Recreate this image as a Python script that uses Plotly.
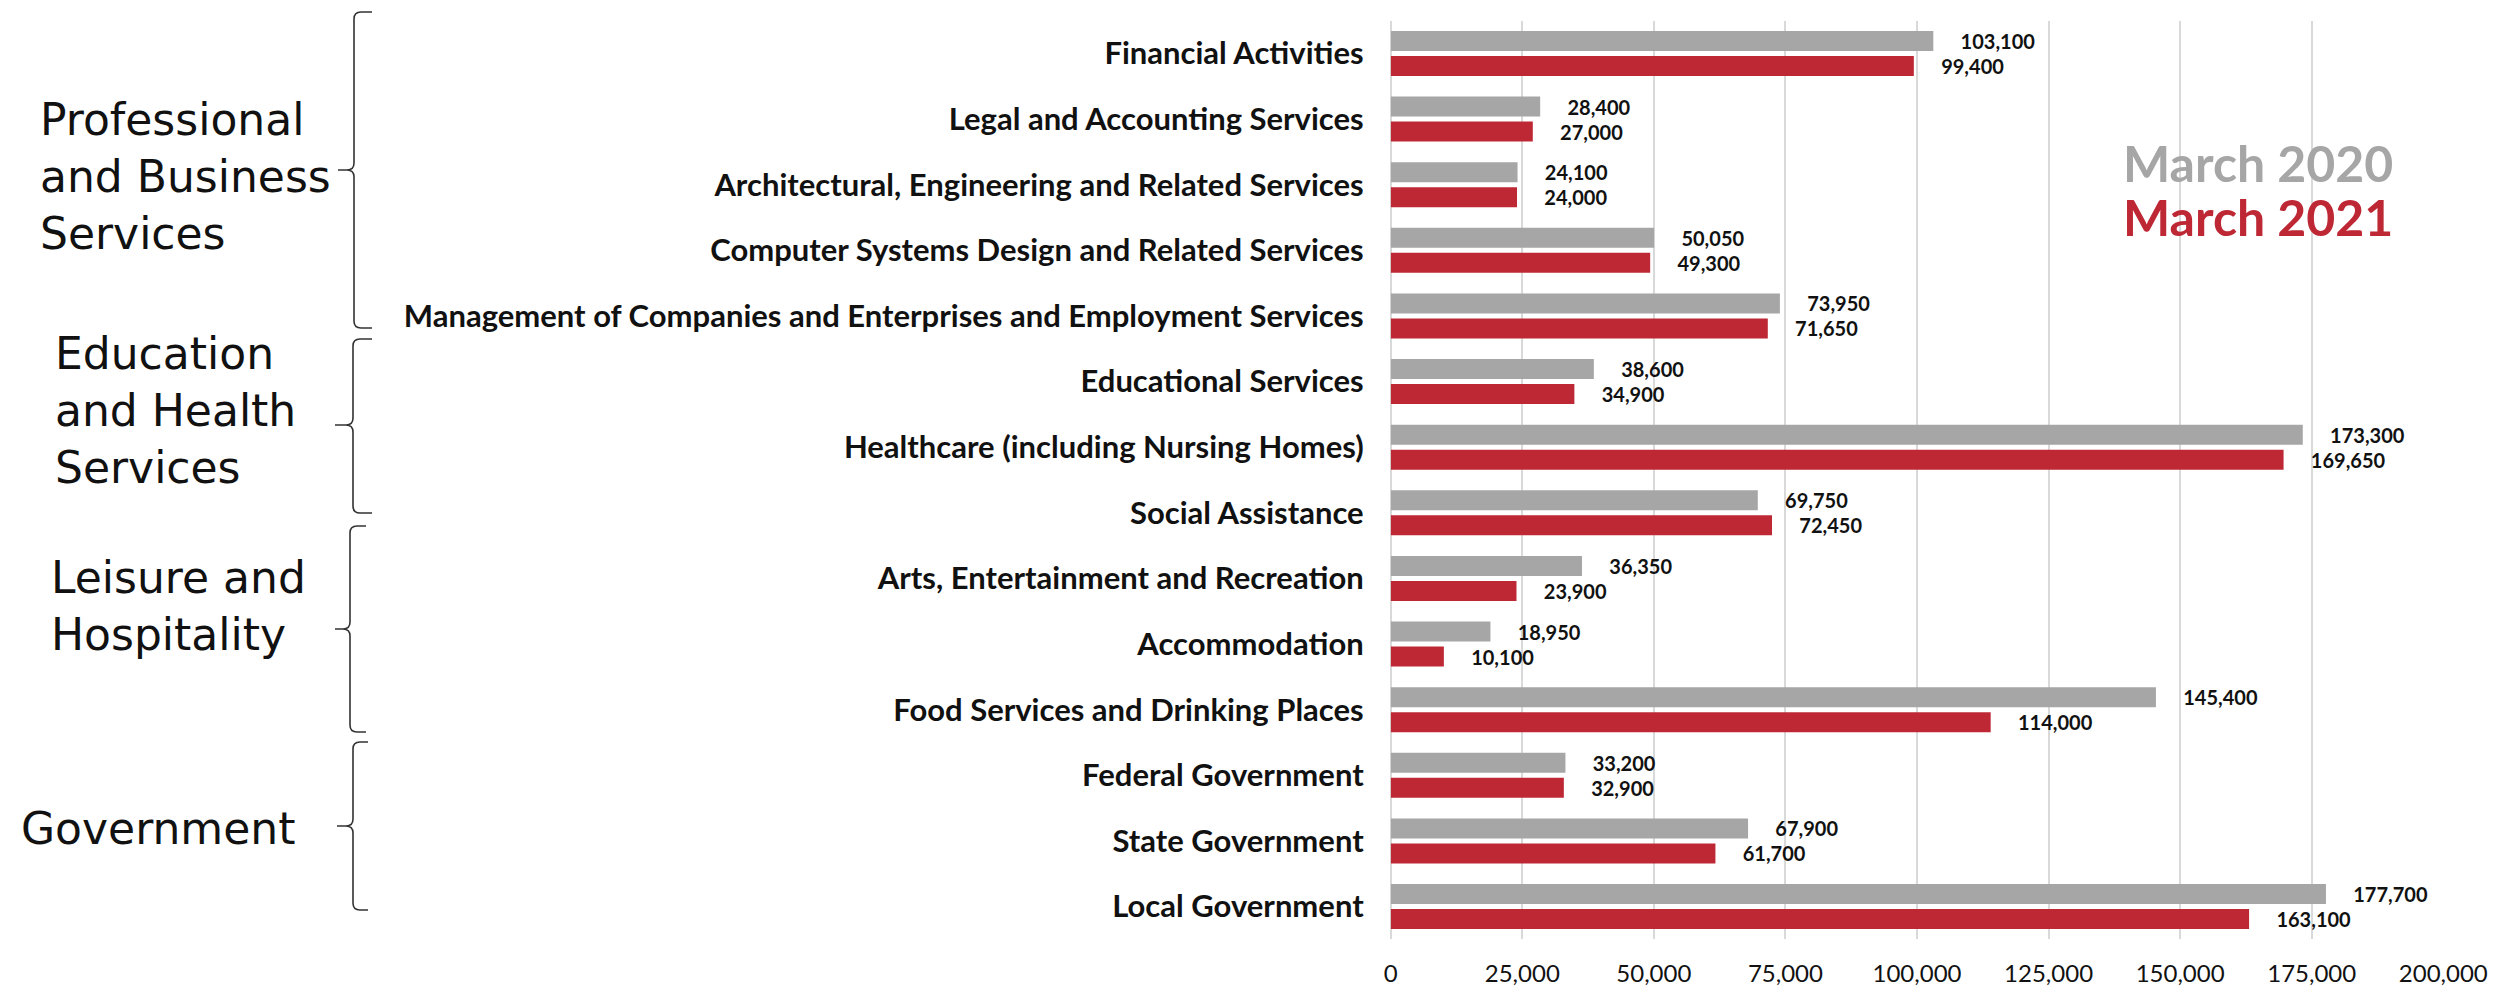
import plotly.graph_objects as go

categories = [
    "Financial Activities",
    "Legal and Accounting Services",
    "Architectural, Engineering and Related Services",
    "Computer Systems Design and Related Services",
    "Management of Companies and Enterprises and Employment Services",
    "Educational Services",
    "Healthcare (including Nursing Homes)",
    "Social Assistance",
    "Arts, Entertainment and Recreation",
    "Accommodation",
    "Food Services and Drinking Places",
    "Federal Government",
    "State Government",
    "Local Government",
]
march_2020 = [103100, 28400, 24100, 50050, 73950, 38600, 173300, 69750, 36350, 18950, 145400, 33200, 67900, 177700]
march_2021 = [99400, 27000, 24000, 49300, 71650, 34900, 169650, 72450, 23900, 10100, 114000, 32900, 61700, 163100]
series_names = ["March 2020", "March 2021"]
x_ticks = [0, 25000, 50000, 75000, 100000, 125000, 150000, 175000, 200000]
x_tick_labels = ["0", "25,000", "50,000", "75,000", "100,000", "125,000", "150,000", "175,000", "200,000"]
groups = [
    "Professional<br>and Business<br>Services",
    "Education<br>and Health<br>Services",
    "Leisure and<br>Hospitality",
    "Government",
]

# page body has an 8px margin: figure is laid out in screen pixels minus this offset
OFF = 8
W, H = 2493, 980
GRAY = "#A6A6A6"
RED = "#BE2835"


def px(x):
    return (x - OFF) / W


def py(y):
    return 1 - (y - OFF) / H


fig = go.Figure()
pad = "\u00a0" * 5
for name, vals, col in [(series_names[0], march_2020, GRAY), (series_names[1], march_2021, RED)]:
    fig.add_trace(go.Bar(
        y=categories, x=vals, name=name, orientation="h",
        marker=dict(color=col, line=dict(width=0)),
        texttemplate=pad + "%{x:,}", textposition="outside",
        constraintext="none", cliponaxis=False,
        textfont=dict(family="Lato", size=20, color="#111111", weight="bold"),
    ))

fig.update_layout(
    width=W, height=H,
    margin=dict(l=0, r=0, t=0, b=0, autoexpand=False),
    paper_bgcolor="white", plot_bgcolor="white",
    barmode="group", bargap=0.238, bargroupgap=0.2,
    showlegend=False,
    xaxis=dict(
        domain=[px(1390.7), px(2443.3)], range=[0, 200000], automargin=False,
        tickvals=x_ticks, ticktext=x_tick_labels,
        showgrid=True, gridcolor="#D9D9D9", gridwidth=2,
        zeroline=True, zerolinecolor="#D9D9D9", zerolinewidth=2,
        showline=False, ticks="", ticklabelstandoff=18,
        tickfont=dict(family="Lato", size=24, color="#111111"),
    ),
    yaxis=dict(
        domain=[py(939.3), py(20.7)], autorange="reversed", automargin=False,
        showgrid=False, zeroline=False, showline=False, ticks="",
        ticklabelstandoff=26,
        tickfont=dict(family="Lato", size=31, color="#111111", weight="bold"),
    ),
)

# white box behind the legend text (interrupts the gridlines)
fig.add_shape(type="rect", xref="paper", yref="paper", layer="between",
              x0=px(2095), x1=px(2460), y0=py(282), y1=py(125),
              fillcolor="white", line=dict(width=0))
fig.add_annotation(text="<b>" + series_names[0] + "</b>", xref="paper", yref="paper",
                   x=px(2121), y=py(163), xanchor="left", yanchor="middle", showarrow=False,
                   font=dict(family="Lato", size=50, color=GRAY))
fig.add_annotation(text="<b>" + series_names[1] + "</b>", xref="paper", yref="paper",
                   x=px(2121), y=py(217), xanchor="left", yanchor="middle", showarrow=False,
                   font=dict(family="Lato", size=50, color=RED))

# group labels
group_pos = [(38, 177), (53, 411), (49, 606), (19, 828)]
for text, (gx, gy) in zip(groups, group_pos):
    fig.add_annotation(text=text, xref="paper", yref="paper", x=px(gx), y=py(gy),
                       xanchor="left", yanchor="middle", align="left", showarrow=False,
                       font=dict(family="DejaVu Sans", size=44, color="#111111"))

# curly braces
braces = [
    (12, 170, 328, 354, 372, 338),
    (339, 425, 513, 353, 372, 335),
    (526, 629, 732, 350, 366, 335),
    (742, 826, 910, 353, 368, 337),
]


def P(x, y):
    return f"{px(x):.6f},{py(y):.6f}"


for top, tip, bot, xv, xh, xt in braces:
    r = 7
    path = (
        f"M {P(xh, top)} L {P(xv + r, top)} Q {P(xv, top)} {P(xv, top + r)} "
        f"L {P(xv, tip - r)} Q {P(xv, tip)} {P(xv - r, tip)} L {P(xt, tip)} "
        f"L {P(xv - r, tip)} Q {P(xv, tip)} {P(xv, tip + r)} "
        f"L {P(xv, bot - r)} Q {P(xv, bot)} {P(xv + r, bot)} L {P(xh, bot)}"
    )
    fig.add_shape(type="path", xref="paper", yref="paper", path=path,
                  line=dict(color="#333333", width=1.6))

fig.write_html("out.html")
